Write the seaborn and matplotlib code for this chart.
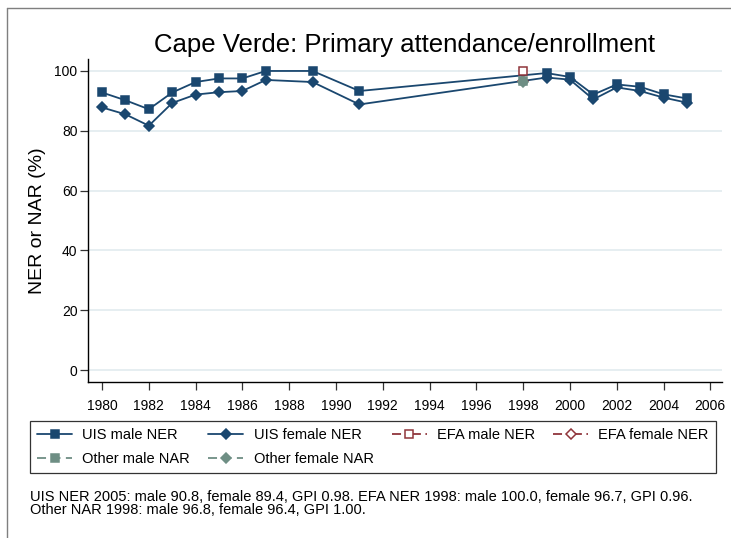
#!/usr/bin/env python3
import matplotlib

matplotlib.use("Agg")
import matplotlib.pyplot as plt
import pandas as pd
import seaborn as sns
from matplotlib.lines import Line2D

# UIS net enrolment series
uis_years = [1980, 1981, 1982, 1983, 1984, 1985, 1986, 1987, 1989, 1991,
             1999, 2000, 2001, 2002, 2003, 2004, 2005]
uis_male = [92.8, 90.2, 87.2, 92.8, 96.3, 97.5, 97.5, 100.0, 100.0, 93.3,
            99.3, 98.0, 92.1, 95.5, 94.7, 92.2, 90.8]
uis_female = [87.8, 85.5, 81.7, 89.3, 92.1, 92.9, 93.3, 97.0, 96.3, 88.8,
              97.8, 97.1, 90.5, 94.5, 93.3, 91.1, 89.4]

efa_years = [1998]
efa_male = [100.0]
efa_female = [96.7]

other_years = [1998]
other_male = [96.8]
other_female = [96.4]

title = "Cape Verde: Primary attendance/enrollment"
ylabel = "NER or NAR (%)"
note = ("UIS NER 2005: male 90.8, female 89.4, GPI 0.98. EFA NER 1998: male 100.0, female 96.7, GPI 0.96.\n"
        "Other NAR 1998: male 96.8, female 96.4, GPI 1.00.")

NAVY = "#1a476f"
MAROON = "#90353b"
TEAL = "#6e8e84"

sns.set_style("white")
plt.rcParams["font.family"] = ["Liberation Sans", "DejaVu Sans"]
plt.rcParams["text.color"] = "black"
plt.rcParams["axes.labelcolor"] = "black"
plt.rcParams["xtick.color"] = "black"
plt.rcParams["ytick.color"] = "black"

W, H = 731, 538
fig = plt.figure(figsize=(W / 100, H / 100), dpi=100)
ax = fig.add_axes([88 / W, 1 - 382 / H, (722 - 88) / W, (382 - 59) / H])

series = [
    ("UIS male NER", uis_years, uis_male, NAVY, "s", NAVY, "-"),
    ("UIS female NER", uis_years, uis_female, NAVY, "D", NAVY, "-"),
    ("EFA male NER", efa_years, efa_male, MAROON, "s", "white", (0, (5, 2.5, 1, 2.5))),
    ("EFA female NER", efa_years, efa_female, MAROON, "D", "white", (0, (5, 2.5, 1, 2.5))),
    ("Other male NAR", other_years, other_male, TEAL, "s", TEAL, (0, (5, 3))),
    ("Other female NAR", other_years, other_female, TEAL, "D", TEAL, (0, (5, 3))),
]

handles = {}
for label, xs, ys, color, marker, face, ls in series:
    df = pd.DataFrame({"year": xs, "value": ys})
    msize = 5.6 if marker == "s" else 5.2
    sns.lineplot(data=df, x="year", y="value", ax=ax, color=color, linewidth=1.3,
                 marker=marker, markersize=msize,
                 markerfacecolor=face, markeredgecolor=color, markeredgewidth=1.1,
                 estimator=None, legend=False)
    handles[label] = Line2D([], [], color=color, linewidth=1.3, linestyle=ls,
                            marker=marker, markersize=msize,
                            markerfacecolor=face, markeredgecolor=color,
                            markeredgewidth=1.1)

ax.set_xlim(1979.4, 2006.5)
ax.set_ylim(-4, 104)
ax.set_xticks(range(1980, 2007, 2))
ax.set_yticks(range(0, 101, 20))
ax.yaxis.grid(True, color="#e6eef1", linewidth=1.4)
ax.xaxis.grid(False)
ax.set_axisbelow(True)
for side in ["top", "right"]:
    ax.spines[side].set_visible(False)
for side in ["left", "bottom"]:
    ax.spines[side].set_color("black")
    ax.spines[side].set_linewidth(1.0)
ax.tick_params(axis="both", which="major", length=5.5, width=0.9, color="#333333",
               labelsize=10, labelcolor="black", direction="out", left=True, bottom=True)
ax.tick_params(axis="x", pad=6.5)
ax.tick_params(axis="y", pad=2)
ax.set_xlabel("")
ax.set_ylabel(ylabel, fontsize=14, labelpad=6, color="black")
ax.set_title(title, fontsize=18.5, pad=5, color="black")

order = ["UIS male NER", "Other male NAR", "UIS female NER", "Other female NAR",
         "EFA male NER", "EFA female NER"]
leg = fig.legend([handles[k] for k in order], order, loc="upper left",
                 bbox_to_anchor=(30 / W, 1 - 421 / H, 686 / W, 0), bbox_transform=fig.transFigure,
                 mode="expand", ncol=4, fontsize=10.5, frameon=True, fancybox=False,
                 edgecolor="black", handlelength=2.4, handletextpad=0.7,
                 borderpad=0.5, labelspacing=0.65, borderaxespad=0, numpoints=1)
leg.get_frame().set_linewidth(0.9)

fig.text(30 / W, 1 - 490 / H, note, fontsize=10.5, va="top", ha="left", linespacing=0.9)

# outer frame lines of the original graph export
fig.add_artist(Line2D([7 / W, 1], [1 - 8 / H, 1 - 8 / H], transform=fig.transFigure,
                      color="#7f7f7f", linewidth=1.0))
fig.add_artist(Line2D([7 / W, 7 / W], [0, 1 - 8 / H], transform=fig.transFigure,
                      color="#7f7f7f", linewidth=1.0))

fig.savefig("out.png", dpi=100, facecolor="white")
